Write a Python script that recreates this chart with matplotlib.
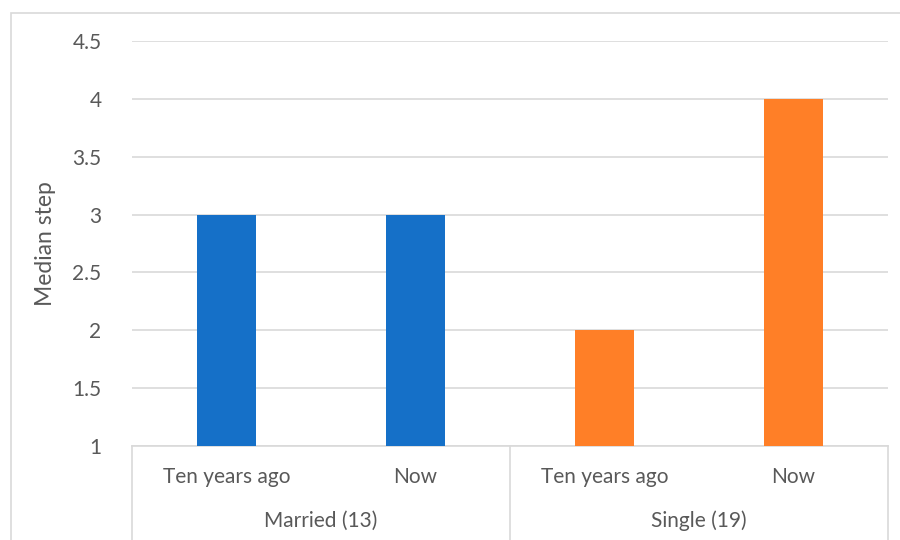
import matplotlib.pyplot as plt
from matplotlib.patches import Rectangle

# data
groups = ["Married (13)", "Single (19)"]
periods = ["Ten years ago", "Now"]
married_vals = [3, 3]
single_vals = [2, 4]
group_colors = ["#1570C8", "#FF7F27"]

plt.rcParams["font.family"] = ["Lato", "DejaVu Sans"]
text_col = "#595959"
grid_col = "#D9D9D9"

fig = plt.figure(figsize=(9, 5.4), dpi=100)
ax = fig.add_axes([132 / 900, 1 - 446 / 540, (888 - 132) / 900, (446 - 41) / 540])

# outer chart border (Excel style)
fig.patches.append(Rectangle((11 / 900, -0.05), 1.0, 1 - 13 / 540 + 0.05,
                             transform=fig.transFigure, fill=False,
                             edgecolor=grid_col, lw=1.2))

vals = married_vals + single_vals
cols = [group_colors[0]] * 2 + [group_colors[1]] * 2
xs = list(range(len(vals)))
ax.bar(xs, [v - 1 for v in vals], bottom=1, width=0.31, color=cols, zorder=3)

ax.set_xlim(-0.5, 3.5)
ax.set_ylim(1, 4.5)
ax.set_yticks([1, 1.5, 2, 2.5, 3, 3.5, 4, 4.5])
ax.set_yticklabels(["1", "1.5", "2", "2.5", "3", "3.5", "4", "4.5"])
ax.yaxis.grid(True, color=grid_col, lw=1.2, zorder=0)
ax.set_axisbelow(True)
ax.tick_params(axis="y", length=0, pad=22, labelsize=15, labelcolor=text_col)
ax.tick_params(axis="x", length=0, labelbottom=False)
for s in ["top", "right", "left"]:
    ax.spines[s].set_visible(False)
ax.spines["bottom"].set_color(grid_col)
ax.spines["bottom"].set_linewidth(1.2)
ax.set_ylabel("Median step", fontsize=16.5, color=text_col, labelpad=12)

# two-level category axis
trans = ax.get_xaxis_transform()
for i, p in enumerate(periods * 2):
    ax.text(xs[i], -0.077, p, transform=trans, ha="center", va="center",
            fontsize=15, color=text_col)
for j, g in enumerate(groups):
    ax.text(j * 2 + 0.5, -0.185, g, transform=trans, ha="center", va="center",
            fontsize=15, color=text_col)
for xv in [-0.5, 1.5, 3.5]:
    ax.plot([xv, xv], [0, -0.3], transform=trans, color=grid_col, lw=1.2,
            clip_on=False)

fig.savefig("out.png", dpi=100)
